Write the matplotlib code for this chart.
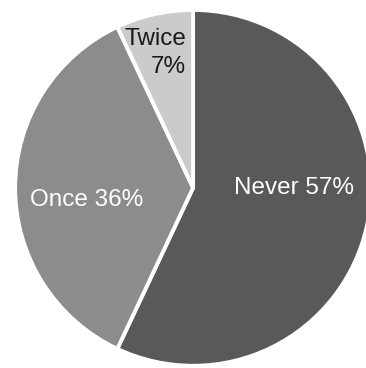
import matplotlib.pyplot as plt

# Данные
categories = ['Never', 'Once', 'Twice']
shares = [57, 36, 7]
colors = ['#595959', '#8c8c8c', '#cbcbcb']
text_colors = ['white', 'white', '#1a1a1a']
label_text = ['Never 57%', 'Once 36%', 'Twice\n7%']
label_pos = [(0.57, 0.0), (-0.6, -0.07), (-0.04, 0.76)]
label_ha = ['center', 'center', 'right']

plt.rcParams['font.family'] = ['Liberation Sans', 'DejaVu Sans']

fig = plt.figure(figsize=(3.66, 3.68), dpi=100)
ax = fig.add_axes([0.041, 0.006, 0.973, 0.967])

ax.pie(shares, colors=colors, startangle=90, counterclock=False,
       wedgeprops=dict(edgecolor='white', linewidth=2.8))

for txt, (x, y), c, ha in zip(label_text, label_pos, text_colors, label_ha):
    ax.text(x, y, txt, ha=ha, va='center', color=c, fontsize=17.5,
            linespacing=1.35, multialignment='right')

ax.set_xlim(-1, 1)
ax.set_ylim(-1, 1)
ax.set_aspect('equal')
ax.axis('off')

fig.savefig('out.png', dpi=100)
